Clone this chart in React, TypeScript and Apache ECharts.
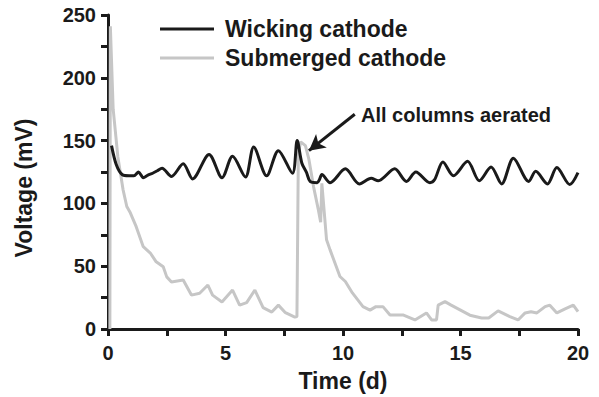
import React, { useEffect, useRef } from "react";
import * as echarts from "echarts";

const wickingTime = [0.15, 0.35, 0.6, 0.9, 1.1, 1.3, 1.5, 1.7, 1.9, 2.1, 2.3, 2.7, 3.2, 3.6, 4.3, 4.85, 5.3, 5.85, 6.2, 6.75, 7.25, 7.85, 8.05, 8.25, 8.45, 8.6, 8.9, 9.0, 9.1, 9.45, 10.1, 10.7, 11.2, 11.5, 12.2, 12.7, 13.1, 13.7, 13.9, 14.25, 14.7, 15.3, 15.8, 16.3, 16.75, 17.25, 17.9, 18.2, 18.7, 19.1, 19.65, 20.0];
const wickingVolt = [146, 131, 123, 122, 122, 125, 120.5, 122.5, 124, 126, 128, 121.5, 131.5, 119.5, 139, 120.5, 137.5, 121, 145, 122, 142, 124, 150, 132, 124.5, 117.5, 116.5, 119, 123, 116.5, 127.5, 115.5, 120, 118, 127.5, 117.5, 125, 116.5, 119, 133, 122, 133.5, 118, 129, 115.5, 136, 117.5, 125.5, 115.5, 128.5, 115, 124.5];

const submergedTime = [0.08, 0.1, 0.22, 0.42, 0.64, 0.8, 0.95, 1.2, 1.5, 1.8, 2.05, 2.35, 2.5, 2.7, 3.2, 3.55, 3.9, 4.25, 4.45, 4.85, 5.3, 5.6, 5.9, 6.25, 6.6, 6.97, 7.25, 7.55, 7.95, 8.04, 8.1, 8.2, 8.4, 8.55, 8.75, 8.95, 9.05, 9.1, 9.3, 9.45, 9.87, 10.1, 10.4, 10.85, 11.15, 11.4, 11.7, 12.0, 12.55, 13.06, 13.55, 13.77, 13.98, 14.05, 14.34, 14.6, 15.0, 15.4, 15.9, 16.2, 16.6, 17.1, 17.45, 17.75, 18.0, 18.25, 18.6, 18.8, 19.1, 19.45, 19.8, 20.0];
const submergedVolt = [0, 241, 175, 137, 111, 97.5, 92.5, 81.5, 65.5, 60.5, 53.5, 49.5, 41.5, 37.5, 39, 27, 28.5, 35, 27, 21.5, 31, 19, 21, 31, 17, 13.5, 19, 13, 9.5, 10, 140, 149, 146, 135, 113, 95, 85, 116, 71, 63, 41.8, 37.8, 28.7, 17.8, 15, 17.8, 17.8, 11.2, 11.2, 7.2, 12.8, 7.2, 7.2, 19, 21.8, 19, 15, 11, 8.8, 8.8, 14.4, 9.8, 7.2, 12.8, 13.8, 12.8, 17.8, 19, 12.8, 16, 19, 13.8];

const seriesNames = ["Wicking cathode", "Submerged cathode"];
const xTicks = { min: 0, max: 20, step: 5 };
const yTicks = { min: 0, max: 250, step: 50 };
const annotationText = "All columns aerated";
const arrowStart = [10.5, 171];
const arrowEnd = [8.55, 142];

const FONT = 'Arial, "Liberation Sans", Helvetica, sans-serif';
const INK = "#1a1a1a";
const GREY = "#c6c6c6";

function pairs(t: number[], v: number[]) {
  return t.map((x, i) => [x, v[i]]);
}

export default function App() {
  const ref = useRef<HTMLDivElement>(null);
  useEffect(() => {
    if (!ref.current) return;
    const chart = echarts.init(ref.current, null, { renderer: "svg" });
    const axisCommon = {
      axisLine: { show: true, lineStyle: { color: INK, width: 3 } },
      axisTick: { show: true, inside: false, length: 7, lineStyle: { color: INK, width: 3 } },
      minorTick: { show: true, splitNumber: 2, length: 7, lineStyle: { color: INK, width: 3 } },
      splitLine: { show: false },
      minorSplitLine: { show: false },
    };
    chart.setOption({
      animation: false,
      backgroundColor: "#ffffff",
      grid: { left: 108, right: 21, top: 15, bottom: 68, containLabel: false },
      legend: {
        orient: "vertical",
        left: 155,
        top: 11,
        icon: "rect",
        itemWidth: 54,
        itemHeight: 3,
        itemGap: 3,
        data: seriesNames,
        textStyle: { fontFamily: FONT, fontWeight: "bold", fontSize: 23, color: INK, padding: [0, 0, 0, 6], lineHeight: 26 },
      },
      xAxis: {
        type: "value",
        min: xTicks.min,
        max: xTicks.max,
        interval: xTicks.step,
        name: "Time (d)",
        nameLocation: "middle",
        nameGap: 40,
        nameTextStyle: { fontFamily: FONT, fontWeight: "bold", fontSize: 23, color: INK },
        axisLabel: { fontFamily: FONT, fontWeight: "bold", fontSize: 20, color: INK, margin: 14 },
        ...axisCommon,
      },
      yAxis: {
        type: "value",
        min: yTicks.min,
        max: yTicks.max,
        interval: yTicks.step,
        name: "Voltage (mV)",
        nameLocation: "middle",
        nameGap: 73,
        nameTextStyle: { fontFamily: FONT, fontWeight: "bold", fontSize: 23, color: INK, padding: [0, 32, 0, 0] },
        axisLabel: { fontFamily: FONT, fontWeight: "bold", fontSize: 20, color: INK, margin: 12 },
        ...axisCommon,
      },
      series: [
        {
          name: seriesNames[0],
          type: "line",
          data: pairs(wickingTime, wickingVolt),
          symbol: "none",
          smooth: 0.3,
          z: 3,
          lineStyle: { color: INK, width: 3 },
          itemStyle: { color: INK },
          markLine: {
            silent: true,
            symbol: ["none", "arrow"],
            symbolSize: [13, 16],
            label: { show: false },
            lineStyle: { color: INK, width: 3, type: "solid" },
            data: [[{ coord: arrowStart }, { coord: arrowEnd }]],
          },
        },
        {
          name: seriesNames[1],
          type: "line",
          data: pairs(submergedTime, submergedVolt),
          symbol: "none",
          z: 2,
          lineStyle: { color: GREY, width: 3 },
          itemStyle: { color: GREY },
        },
      ],
      graphic: [
        {
          type: "text",
          x: 361,
          y: 115,
          style: {
            text: annotationText,
            font: `bold 20px ${FONT}`,
            fill: INK,
            verticalAlign: "middle",
          },
        },
      ],
    });
    return () => chart.dispose();
  }, []);
  return <div ref={ref} style={{ position: "fixed", left: 0, top: 0, width: 599, height: 397 }} />;
}
